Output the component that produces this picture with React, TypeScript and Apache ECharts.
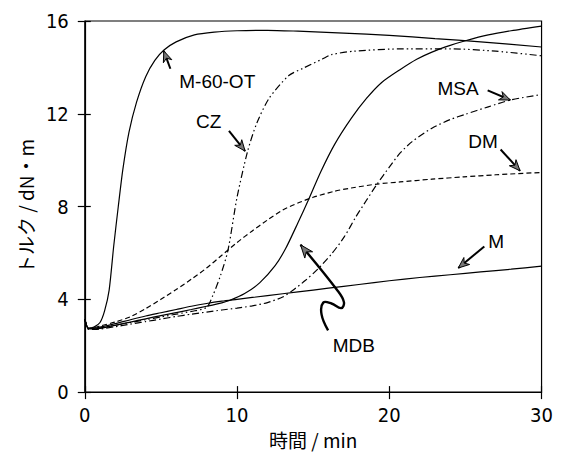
import React, { useEffect, useRef } from "react";
import * as echarts from "echarts";

// ---- data (time in min, torque in dN·m) ----
const timeM60OT = [0, 0.25, 0.6, 1.0, 1.3, 1.6, 1.9, 2.2, 2.5, 2.9, 3.4, 4.0, 4.6, 5.2, 6, 7.2, 8.5, 10, 12, 14, 17, 20, 23, 26, 30];
const torqueM60OT = [3.15, 2.75, 2.8, 3.0, 3.5, 4.4, 6.3, 8.0, 9.6, 11.2, 12.5, 13.6, 14.3, 14.75, 15.1, 15.4, 15.52, 15.58, 15.6, 15.56, 15.48, 15.38, 15.24, 15.1, 14.88];

const timeM = [0, 0.25, 0.6, 1, 2, 3, 4, 5, 6, 7, 8, 9, 10, 12, 14, 16, 18, 20, 22, 24, 26, 28, 30];
const torqueM = [3.15, 2.75, 2.75, 2.8, 2.95, 3.12, 3.28, 3.42, 3.56, 3.7, 3.82, 3.92, 4.0, 4.16, 4.32, 4.48, 4.64, 4.8, 4.94, 5.06, 5.18, 5.3, 5.43];

const timeMDB = [0, 0.25, 0.6, 1, 2, 3, 4, 5, 6, 7, 8, 9, 9.5, 10.5, 11.5, 12.5, 13.2, 14, 14.7, 15.5, 16.4, 17.5, 18.5, 19.5, 20.7, 21.8, 22.8, 24, 25, 26.5, 28, 30];
const torqueMDB = [3.15, 2.72, 2.72, 2.75, 2.88, 3.02, 3.16, 3.3, 3.43, 3.56, 3.7, 3.85, 3.95, 4.25, 4.72, 5.45, 6.2, 7.3, 8.3, 9.5, 10.67, 11.8, 12.66, 13.35, 13.9, 14.35, 14.66, 14.95, 15.15, 15.4, 15.58, 15.78];

const timeCZ = [0, 0.25, 0.6, 1, 2, 3, 4, 5, 6, 7, 8, 8.4, 8.9, 9.4, 10, 10.7, 11.3, 12.1, 13.4, 14.3, 15.6, 16.2, 17.7, 20.9, 24, 27, 30];
const torqueCZ = [3.15, 2.72, 2.72, 2.76, 2.88, 3.0, 3.12, 3.24, 3.36, 3.48, 3.65, 4.15, 5.0, 6.1, 8.4, 10.4, 11.6, 12.66, 13.65, 13.95, 14.36, 14.55, 14.7, 14.8, 14.8, 14.7, 14.5];

const timeMSA = [0, 0.25, 0.6, 1, 2, 3, 4, 5, 6, 7, 8, 9, 10, 11, 12, 13, 13.6, 14.5, 15.3, 16.2, 17.05, 17.8, 18.5, 19.2, 20, 20.7, 21.5, 22.8, 24, 25, 26.5, 28, 30];
const torqueMSA = [3.15, 2.7, 2.7, 2.72, 2.82, 2.93, 3.04, 3.15, 3.26, 3.36, 3.45, 3.54, 3.62, 3.72, 3.86, 4.1, 4.36, 4.82, 5.3, 5.95, 6.7, 7.55, 8.27, 8.97, 9.7, 10.3, 10.8, 11.38, 11.75, 11.98, 12.3, 12.6, 12.83];

const timeDM = [0, 0.25, 0.6, 1, 2, 3, 4, 5, 6, 7, 8, 9, 10, 11, 12, 13, 14, 15, 16.4, 17.5, 19.2, 20.7, 22.8, 24.9, 27, 30];
const torqueDM = [3.15, 2.75, 2.78, 2.85, 3.02, 3.25, 3.6, 4.0, 4.42, 4.87, 5.35, 5.9, 6.45, 6.95, 7.42, 7.85, 8.15, 8.4, 8.66, 8.8, 8.97, 9.06, 9.18, 9.28, 9.37, 9.47];

const xTicks = [0, 10, 20, 30];
const yTicks = [0, 4, 8, 12, 16];

// annotation anchors in data units: label centre, arrow start, arrow tip
const labelNames = ["M-60-OT", "CZ", "MSA", "DM", "M", "MDB"];
const labelAt = [[8.7, 13.4], [8.14, 11.66], [24.52, 13.09], [26.15, 10.81], [27.02, 6.49], [17.67, 2.02]];
const arrowFrom = [[5.62, 13.94], [9.47, 11.26], [26.46, 13.01], [27.31, 10.46], [26.24, 6.28]];
const arrowTip = [[5.19, 14.71], [10.53, 10.39], [27.95, 12.59], [28.59, 9.54], [24.53, 5.35]];
const mdbSquiggle = [[15.98, 2.66], [15.55, 3.35], [15.66, 3.86], [16.2, 3.82], [16.84, 3.62], [17.02, 3.88], [16.62, 4.36], [14.17, 6.35]];

const zip = (t: number[], v: number[]) => t.map((x, i) => [x, v[i]]);

const FONT_NUM = "'Liberation Sans Narrow', 'DejaVu Sans Condensed', 'Liberation Sans', sans-serif";
const FONT_JP = "'Noto Sans CJK JP', sans-serif";
const FONT_LBL = "'Liberation Sans', Arial, sans-serif";

export default function App() {
  const ref = useRef<HTMLDivElement>(null);
  useEffect(() => {
    if (!ref.current) return;
    const chart = echarts.init(ref.current, undefined, { renderer: "svg" });
    const mkLine = (name: string, t: number[], v: number[], type: any) => ({
      name,
      type: "line",
      data: zip(t, v),
      showSymbol: false,
      smooth: 0.25,
      lineStyle: { color: "#000", width: 1.2, type },
      z: 3,
    });
    const axisCommonX = { type: "value", min: 0, max: 30, interval: 10 };
    const axisCommonY = { type: "value", min: 0, max: 16, interval: 4 };
    chart.setOption({
      animation: false,
      grid: { left: 66, right: 14, top: 13, bottom: 56.5, show: true, borderColor: "#000", borderWidth: 1.2, backgroundColor: "transparent" },
      xAxis: [
        {
          ...axisCommonX,
          name: "時間 / min",
          nameLocation: "middle",
          nameGap: 35,
          nameTextStyle: { fontFamily: FONT_JP, fontSize: 19, color: "#000" },
          axisLine: { lineStyle: { color: "#000", width: 1.2 } },
          axisTick: { show: true, inside: false, length: 7, lineStyle: { color: "#000", width: 1.2 } },
          axisLabel: { margin: 13, fontFamily: FONT_NUM, fontSize: 20, color: "#000", customValues: xTicks },
          splitLine: { show: false },
        },
        {
          ...axisCommonX,
          position: "bottom",
          axisLine: { show: false },
          axisTick: { show: true, inside: true, length: 6, lineStyle: { color: "#000", width: 1.2 } },
          axisLabel: { show: false },
          splitLine: { show: false },
        },
      ],
      yAxis: [
        {
          ...axisCommonY,
          name: "トルク / dN・m",
          nameLocation: "middle",
          nameGap: 44,
          nameRotate: 90,
          nameTextStyle: { fontFamily: FONT_JP, fontSize: 19, color: "#000" },
          axisLine: { lineStyle: { color: "#000", width: 1.2 } },
          axisTick: { show: true, inside: false, length: 7, lineStyle: { color: "#000", width: 1.2 } },
          axisLabel: { margin: 16, fontFamily: FONT_NUM, fontSize: 20, color: "#000", customValues: yTicks },
          splitLine: { show: false },
        },
        {
          ...axisCommonY,
          position: "left",
          axisLine: { show: false },
          axisTick: { show: true, inside: true, length: 6, lineStyle: { color: "#000", width: 1.2 } },
          axisLabel: { show: false },
          splitLine: { show: false },
        },
      ],
      series: [
        mkLine("M-60-OT", timeM60OT, torqueM60OT, "solid"),
        mkLine("CZ", timeCZ, torqueCZ, [7, 3, 1.5, 3, 1.5, 3]),
        mkLine("MDB", timeMDB, torqueMDB, "solid"),
        mkLine("MSA", timeMSA, torqueMSA, [7, 3, 1.5, 3]),
        mkLine("DM", timeDM, torqueDM, [5, 3]),
        mkLine("M", timeM, torqueM, "solid"),
      ],
    });

    const px = (p: number[]) => chart.convertToPixel({ gridIndex: 0 }, p) as number[];
    const head = (from: number[], tip: number[], len = 11, half = 4.5) => {
      const dx = tip[0] - from[0];
      const dy = tip[1] - from[1];
      const d = Math.hypot(dx, dy) || 1;
      const ux = dx / d, uy = dy / d;
      const bx = tip[0] - ux * len, by = tip[1] - uy * len;
      return {
        type: "polygon",
        shape: { points: [tip, [bx - uy * half, by + ux * half], [tip[0] - ux * len * 0.7, tip[1] - uy * len * 0.7], [bx + uy * half, by - ux * half]] },
        style: { fill: "#777", stroke: "#000", lineWidth: 1 },
        z: 10,
      };
    };
    const graphics: any[] = [];
    labelNames.forEach((name, i) => {
      const c = px(labelAt[i]);
      graphics.push({
        type: "text",
        x: c[0],
        y: c[1],
        style: { text: name, fill: "#000", font: `19px ${FONT_LBL}`, align: "center", verticalAlign: "middle" },
        z: 10,
      });
    });
    arrowFrom.forEach((f, i) => {
      const a = px(f);
      const b = px(arrowTip[i]);
      graphics.push({ type: "line", shape: { x1: a[0], y1: a[1], x2: b[0], y2: b[1] }, style: { stroke: "#000", lineWidth: 2 }, z: 10 });
      graphics.push(head(a, b));
    });
    const sq = mdbSquiggle.map(px);
    graphics.push({ type: "polyline", shape: { points: sq, smooth: 0.4 }, style: { stroke: "#000", lineWidth: 2.4, fill: "none" }, z: 10 });
    graphics.push(head(sq[sq.length - 2], sq[sq.length - 1], 13, 5));
    chart.setOption({ graphic: graphics });

    return () => chart.dispose();
  }, []);
  return <div ref={ref} style={{ width: 548, height: 446 }} />;
}
